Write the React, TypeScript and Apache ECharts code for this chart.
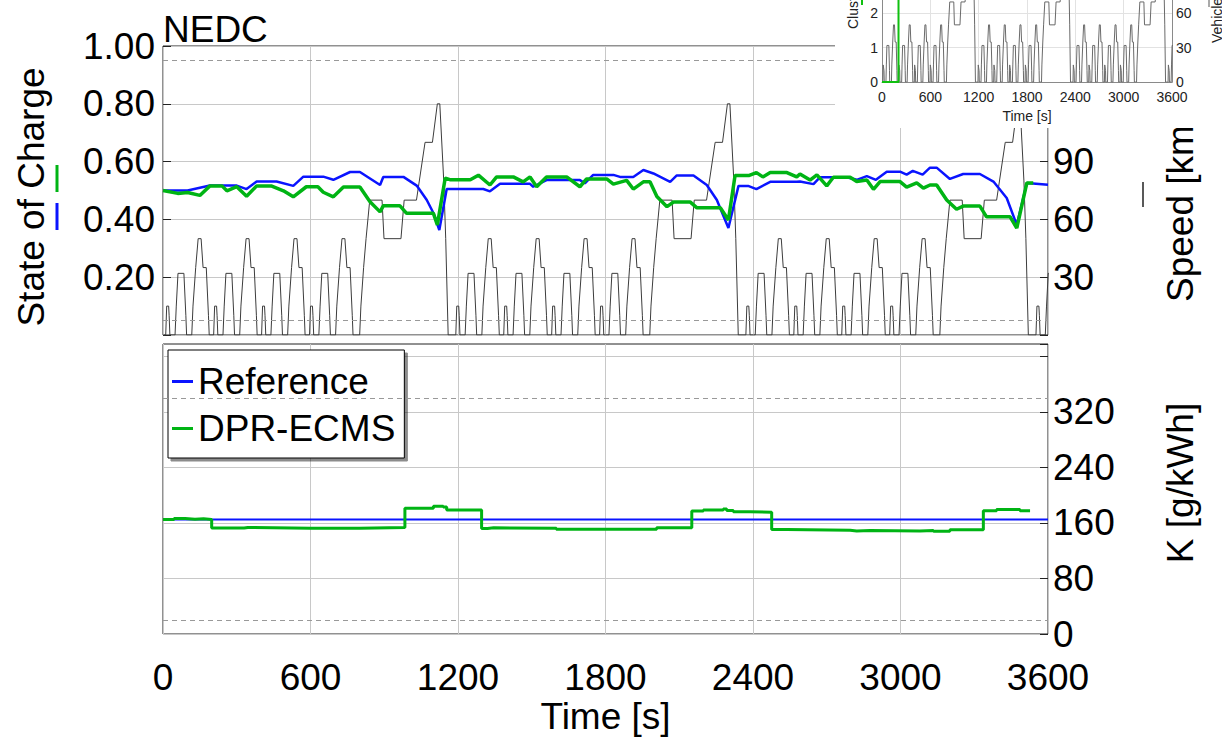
import React, { useEffect, useRef } from "react";
import * as echarts from "echarts";

const FONT = "'Liberation Sans', Arial, Helvetica, sans-serif";

// Time axis ticks [s]
const TIME_MAX = 3600;
const TIME_STEP = 600;

// NEDC speed profile: one urban (ECE-15) block and one extra-urban (EUDC) block
const ECE_T = [0, 11, 15, 23, 25, 28, 49, 54, 56, 61, 85, 93, 96, 117, 122, 124, 133, 135, 143, 155, 163, 176, 178, 185, 188, 195];
const ECE_V = [0, 0, 15, 15, 10, 0, 0, 15, 15, 32, 32, 10, 0, 0, 15, 15, 35, 35, 50, 50, 35, 35, 35, 10, 0, 0];
const EUDC_T = [0, 20, 25, 27, 36, 38, 46, 48, 61, 111, 119, 188, 201, 251, 286, 316, 336, 346, 362, 370, 380, 400];
const EUDC_V = [0, 0, 15, 15, 35, 35, 50, 50, 70, 70, 50, 50, 70, 70, 100, 100, 120, 120, 80, 50, 0, 0];
const ECE_STARTS = [0, 195, 390, 585];
const EUDC_START = 780;
const CYCLE_STARTS = [0, 1180, 2360, 3540];

// Battery state of charge [-]
const socReference: [number, number][] = [
  [0, 0.5], [100, 0.5], [191, 0.517], [300, 0.517], [340, 0.505], [381, 0.531], [462, 0.531], [530, 0.516],
  [571, 0.548], [652, 0.548], [693, 0.537], [761, 0.564], [801, 0.564], [883, 0.519], [896, 0.547], [978, 0.547],
  [1032, 0.517], [1073, 0.467], [1100, 0.422], [1124, 0.363], [1154, 0.505], [1303, 0.505], [1330, 0.497],
  [1371, 0.523], [1493, 0.523], [1506, 0.513], [1560, 0.536], [1696, 0.536], [1716, 0.525], [1750, 0.554],
  [1832, 0.554], [1859, 0.547], [1913, 0.547], [1954, 0.571], [1995, 0.559], [2063, 0.53], [2090, 0.552],
  [2158, 0.552], [2212, 0.519], [2253, 0.467], [2300, 0.37], [2341, 0.516], [2380, 0.516], [2414, 0.505],
  [2470, 0.53], [2578, 0.53], [2591, 0.531], [2646, 0.522], [2673, 0.546], [2781, 0.546], [2822, 0.537],
  [2863, 0.55], [2900, 0.537], [2944, 0.565], [2998, 0.565], [3025, 0.555], [3050, 0.568], [3090, 0.555],
  [3120, 0.579], [3147, 0.579], [3201, 0.54], [3255, 0.557], [3323, 0.557], [3378, 0.531], [3432, 0.474],
  [3473, 0.381], [3514, 0.526], [3600, 0.52],
];
const socDprEcms: [number, number][] = [
  [0, 0.5], [60, 0.49], [100, 0.493], [150, 0.483], [191, 0.516], [240, 0.516], [260, 0.499], [300, 0.513],
  [340, 0.48], [381, 0.516], [440, 0.516], [490, 0.499], [530, 0.478], [583, 0.513], [630, 0.513], [652, 0.494],
  [693, 0.478], [734, 0.512], [801, 0.512], [842, 0.461], [883, 0.426], [896, 0.447], [964, 0.447], [991, 0.421],
  [1100, 0.421], [1116, 0.381], [1148, 0.543], [1170, 0.537], [1250, 0.537], [1283, 0.553], [1330, 0.519],
  [1357, 0.547], [1425, 0.547], [1465, 0.53], [1493, 0.547], [1520, 0.513], [1560, 0.547], [1642, 0.547],
  [1696, 0.513], [1723, 0.54], [1805, 0.54], [1832, 0.522], [1886, 0.535], [1913, 0.505], [1954, 0.53],
  [1981, 0.53], [2009, 0.479], [2050, 0.444], [2077, 0.46], [2145, 0.46], [2172, 0.44], [2267, 0.44],
  [2300, 0.398], [2327, 0.552], [2385, 0.552], [2414, 0.562], [2440, 0.547], [2470, 0.562], [2538, 0.562],
  [2578, 0.547], [2591, 0.557], [2632, 0.536], [2660, 0.554], [2700, 0.516], [2727, 0.546], [2795, 0.546],
  [2822, 0.531], [2863, 0.536], [2890, 0.504], [2917, 0.531], [2998, 0.531], [3025, 0.512], [3066, 0.526],
  [3093, 0.508], [3120, 0.519], [3147, 0.519], [3188, 0.467], [3228, 0.435], [3255, 0.446], [3323, 0.446],
  [3350, 0.409], [3446, 0.409], [3473, 0.37], [3514, 0.526], [3540, 0.526],
];

// Equivalence factor K [g/kWh]
const kReference: [number, number][] = [[0, 165], [3600, 165]];
const kDprEcms: [number, number][] = [
  [0, 165], [45, 166.5], [90, 165.5], [130, 166], [165, 165], [198, 152.8], [330, 153.5], [345, 152.5],
  [600, 152.5], [800, 153.5], [984, 181.2], [1100, 184.3], [1140, 183], [1154, 178.7], [1296, 152],
  [1320, 153], [1345, 152.3], [1600, 150.9], [2008, 153.2], [2151, 177.3], [2198, 178.7], [2279, 180],
  [2293, 178], [2320, 176.3], [2388, 175.4], [2476, 150.5], [2537, 149.5], [2795, 148.5], [2822, 149.2],
  [2876, 148.3], [3079, 149.3], [3134, 148.2], [3201, 150.2], [3337, 177.5], [3391, 179.5], [3486, 177.8],
  [3527, 177.8],
];

// Operating-point cluster index [-]
const clusterIndex: [number, number][] = [[0, 0], [205, 3], [3600, 3]];

// Axis ranges
const SOC_RANGE = [0, 1];
const SOC_LIMITS = [0.05, 0.95];
const SPEED_RANGE = [0, 150];
const K_RANGE = [0, 418];
const K_LIMITS = [20, 340];

function buildSpeed(): [number, number][] {
  const pts: [number, number][] = [];
  for (const c of CYCLE_STARTS) {
    for (const e of ECE_STARTS) ECE_T.forEach((t, i) => pts.push([c + e + t, ECE_V[i]]));
    EUDC_T.forEach((t, i) => pts.push([c + EUDC_START + t, EUDC_V[i]]));
  }
  return pts;
}

const BLUE = "#0a14ff";
const GREEN = "#00b414";
const GRID_LINE = "#c8c8c8";
const FRAME = "#222";
const plain = (v: number) => String(v);

function mainOption(speed: [number, number][]) {
  const big = { fontSize: 37, color: "#000", fontFamily: FONT };
  const dashed = (vals: number[]) => ({
    silent: true,
    symbol: "none",
    label: { show: false },
    lineStyle: { type: [5, 4], color: "#999", width: 1 },
    data: vals.map((v) => ({ yAxis: v })),
  });
  return {
    animation: false,
    backgroundColor: "#fff",
    textStyle: { fontFamily: FONT },
    grid: [
      { left: 163, top: 46, width: 885, height: 289, show: true, borderColor: FRAME, borderWidth: 1 },
      { left: 163, top: 344, width: 885, height: 290, show: true, borderColor: FRAME, borderWidth: 1 },
    ],
    xAxis: [
      {
        gridIndex: 0, type: "value", min: 0, max: TIME_MAX, interval: TIME_STEP,
        axisLabel: { show: false }, axisTick: { show: false }, axisLine: { show: false },
        splitLine: { lineStyle: { color: GRID_LINE } },
      },
      {
        gridIndex: 1, type: "value", min: 0, max: TIME_MAX, interval: TIME_STEP,
        axisLabel: { ...big, margin: 25, formatter: plain }, axisTick: { show: false }, axisLine: { show: false },
        splitLine: { lineStyle: { color: GRID_LINE } },
        name: "Time [s]", nameLocation: "middle", nameGap: 64, nameTextStyle: big,
      },
    ],
    yAxis: [
      {
        gridIndex: 0, type: "value", position: "left", min: SOC_RANGE[0], max: SOC_RANGE[1], interval: 0.2,
        axisLabel: { ...big, margin: 8, formatter: (v: number) => (v === 0 ? "" : v.toFixed(2)) },
        axisTick: { inside: true, length: 8, lineStyle: { color: FRAME } },
        axisLine: { show: false },
        splitLine: { lineStyle: { color: GRID_LINE } },
      },
      {
        gridIndex: 0, type: "value", position: "right", min: SPEED_RANGE[0], max: SPEED_RANGE[1], interval: 30,
        axisLabel: { ...big, margin: 5, formatter: (v: number) => (v >= 30 && v <= 90 ? String(v) : "") },
        axisTick: { inside: true, length: 8, lineStyle: { color: FRAME } },
        axisLine: { show: false }, splitLine: { show: false },
      },
      {
        gridIndex: 1, type: "value", position: "left", min: K_RANGE[0], max: K_RANGE[1], interval: 80,
        axisLabel: { show: false }, axisTick: { show: false }, axisLine: { show: false }, splitLine: { show: false },
      },
      {
        gridIndex: 1, type: "value", position: "right", min: K_RANGE[0], max: K_RANGE[1], interval: 80,
        axisLabel: { ...big, margin: 5, formatter: (v: number) => (v <= 320 ? String(v) : "") },
        axisTick: { inside: true, length: 8, lineStyle: { color: FRAME } },
        axisLine: { show: false },
        splitLine: { lineStyle: { color: GRID_LINE }, showMaxLine: false },
      },
    ],
    legend: {
      left: 168, top: 350, orient: "vertical",
      backgroundColor: "#fff", borderColor: "#000", borderWidth: 1, borderRadius: 0,
      padding: [13, 9, 11, 4], itemGap: 10, itemWidth: 21, itemHeight: 3,
      shadowColor: "rgba(0,0,0,0.45)", shadowBlur: 1, shadowOffsetX: 3, shadowOffsetY: 3,
      textStyle: big, selectedMode: false,
      data: [{ name: "Reference", icon: "rect" }, { name: "DPR-ECMS", icon: "rect" }],
    },
    series: [
      {
        name: "Speed", type: "line", xAxisIndex: 0, yAxisIndex: 1, data: speed, symbol: "none",
        lineStyle: { color: "#3c3c3c", width: 1 }, itemStyle: { color: "#3c3c3c" }, z: 1,
        markLine: dashed(SOC_LIMITS.map((s) => s * SPEED_RANGE[1])),
      },
      {
        name: "Reference", type: "line", xAxisIndex: 0, yAxisIndex: 0, data: socReference, symbol: "none",
        lineStyle: { color: BLUE, width: 2.5 }, itemStyle: { color: BLUE }, z: 3,
      },
      {
        name: "DPR-ECMS", type: "line", xAxisIndex: 0, yAxisIndex: 0, data: socDprEcms, symbol: "none",
        lineStyle: { color: GREEN, width: 3.5 }, itemStyle: { color: GREEN }, z: 4,
      },
      {
        name: "Reference", type: "line", xAxisIndex: 1, yAxisIndex: 3, data: kReference, symbol: "none",
        lineStyle: { color: BLUE, width: 2 }, itemStyle: { color: BLUE }, z: 3,
        markLine: dashed(K_LIMITS),
      },
      {
        name: "DPR-ECMS", type: "line", xAxisIndex: 1, yAxisIndex: 3, data: kDprEcms, symbol: "none", step: "end",
        lineStyle: { color: GREEN, width: 3 }, itemStyle: { color: GREEN }, z: 4,
      },
    ],
    graphic: [
      { type: "text", x: 163, y: 29, style: { text: "NEDC", ...big, fill: "#000", align: "left", verticalAlign: "middle" } },
      {
        type: "text", x: 31, y: 197, rotation: Math.PI / 2,
        style: { text: "State of Charge", ...big, fill: "#000", align: "center", verticalAlign: "middle" },
      },
      { type: "line", shape: { x1: 57, y1: 230, x2: 57, y2: 203 }, style: { stroke: BLUE, lineWidth: 3 } },
      { type: "line", shape: { x1: 57, y1: 192, x2: 57, y2: 165 }, style: { stroke: GREEN, lineWidth: 3 } },
      {
        type: "text", x: 1180, y: 193, rotation: Math.PI / 2,
        style: { text: "Speed [km/h]", ...big, fill: "#000", align: "center", verticalAlign: "middle" },
      },
      { type: "line", shape: { x1: 1143, y1: 207, x2: 1143, y2: 182 }, style: { stroke: "#222", lineWidth: 1.5 } },
      {
        type: "text", x: 1180, y: 483, rotation: Math.PI / 2,
        style: { text: "K [g/kWh]", ...big, fill: "#000", align: "center", verticalAlign: "middle" },
      },
    ],
  };
}

function insetOption(speed: [number, number][]) {
  const small = { fontSize: 14, color: "#222", fontFamily: FONT };
  const thinGrid = { lineStyle: { color: "#e2e2e2" } };
  const edge = { show: true, lineStyle: { color: "#8a8a8a" } };
  return {
    animation: false,
    backgroundColor: "#fff",
    textStyle: { fontFamily: FONT },
    grid: { left: 47, top: 0, width: 290, height: 86 },
    xAxis: {
      type: "value", min: 0, max: TIME_MAX, interval: TIME_STEP,
      axisLabel: { ...small, margin: 8, formatter: plain }, axisTick: { show: false }, axisLine: edge,
      splitLine: thinGrid,
      name: "Time [s]", nameLocation: "middle", nameGap: 24, nameTextStyle: small,
    },
    yAxis: [
      {
        type: "value", position: "left", min: 0, max: 2.39, interval: 1,
        axisLabel: { ...small, margin: 4, formatter: (v: number) => (Number.isInteger(v) ? String(v) : "") },
        axisTick: { show: false }, axisLine: edge,
        splitLine: { ...thinGrid, showMaxLine: false },
      },
      {
        type: "value", position: "right", min: 0, max: 71.7, interval: 30,
        axisLabel: { ...small, margin: 4, formatter: (v: number) => (v % 30 === 0 ? String(v) : "") },
        axisTick: { show: false }, axisLine: edge, splitLine: { show: false },
      },
    ],
    series: [
      {
        type: "line", yAxisIndex: 1, data: speed, symbol: "none",
        lineStyle: { color: "#6a6a6a", width: 1 }, z: 2,
      },
      {
        type: "line", yAxisIndex: 0, data: clusterIndex, symbol: "none", step: "end",
        lineStyle: { color: "#10c010", width: 2 }, z: 3,
      },
    ],
    graphic: [
      {
        type: "text", x: 18, y: 29, rotation: Math.PI / 2,
        style: { text: "Cluster index [-]", ...small, fill: "#222", align: "left", verticalAlign: "middle" },
      },
      { type: "line", shape: { x1: 27, y1: 0, x2: 27, y2: 5 }, style: { stroke: "#10c010", lineWidth: 2 } },
      {
        type: "text", x: 382, y: 43, rotation: Math.PI / 2,
        style: { text: "Vehicle speed [km/h]", ...small, fill: "#222", align: "left", verticalAlign: "middle" },
      },
      { type: "line", shape: { x1: 374, y1: 0, x2: 374, y2: 7 }, style: { stroke: "#555", lineWidth: 1 } },
    ],
  };
}

export default function App() {
  const mainRef = useRef<HTMLDivElement>(null);
  const insetRef = useRef<HTMLDivElement>(null);

  useEffect(() => {
    if (!mainRef.current || !insetRef.current) return;
    const speed = buildSpeed();
    const main = echarts.init(mainRef.current, undefined, { renderer: "svg" });
    main.setOption(mainOption(speed) as any);
    const inset = echarts.init(insetRef.current, undefined, { renderer: "svg" });
    inset.setOption(insetOption(speed) as any);
    return () => {
      main.dispose();
      inset.dispose();
    };
  }, []);

  return (
    <div style={{ position: "fixed", left: 0, top: 0, width: 1222, height: 744, background: "#fff" }}>
      <div ref={mainRef} style={{ position: "absolute", left: 0, top: 0, width: 1222, height: 744 }} />
      <div
        ref={insetRef}
        style={{ position: "absolute", left: 835, top: 0, width: 387, height: 128, background: "#fff", overflow: "hidden" }}
      />
    </div>
  );
}
